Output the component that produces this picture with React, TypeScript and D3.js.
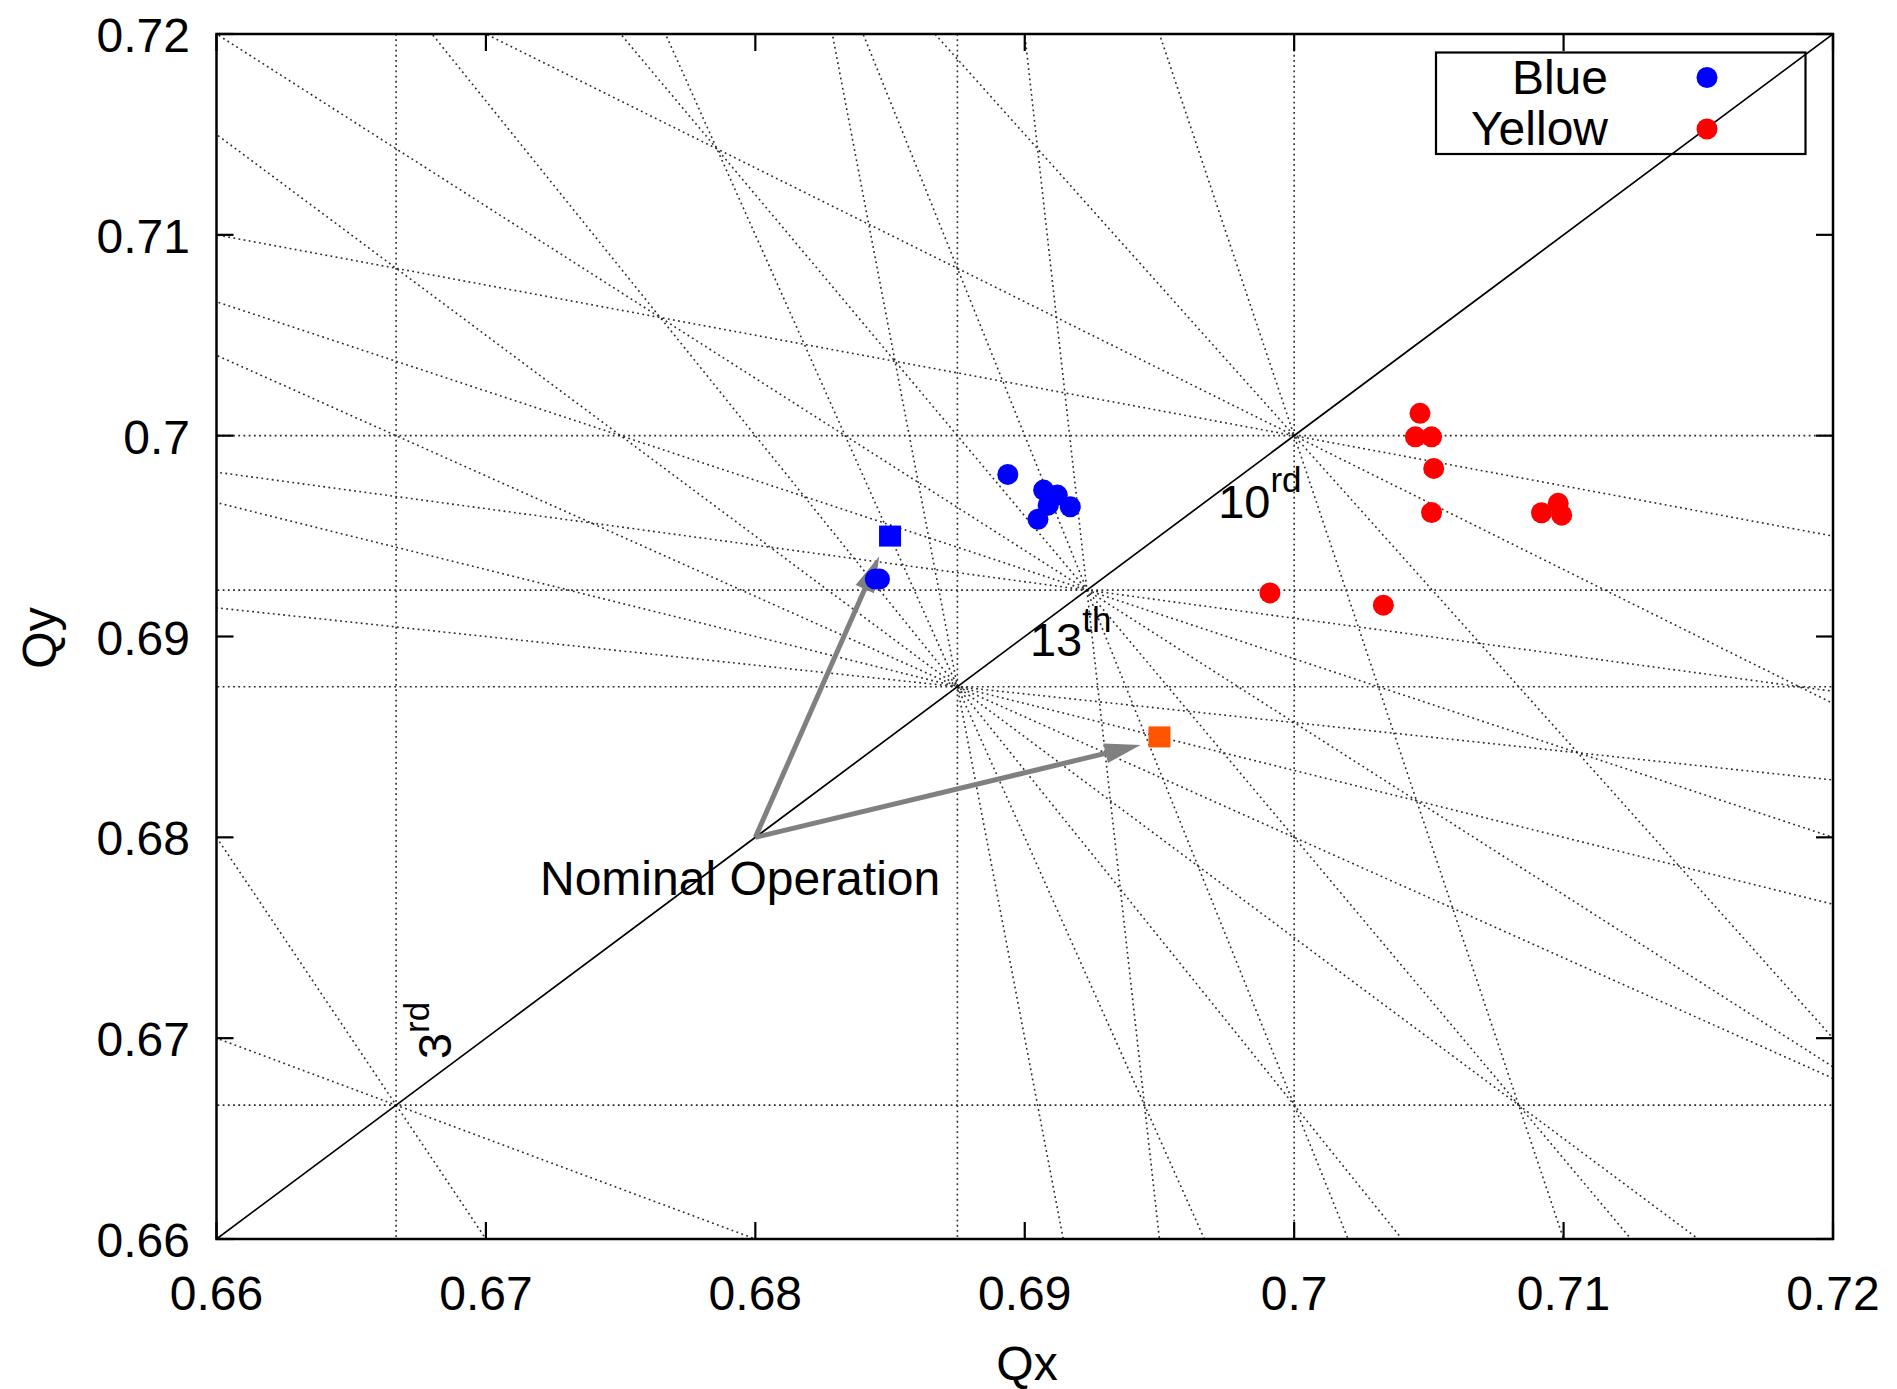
import React from 'react';
import * as d3 from 'd3';

const W = 1897;
const H = 1389;
const FONT = 'Liberation Sans, Arial, Helvetica, sans-serif';

const TICKS = [0.66, 0.67, 0.68, 0.69, 0.7, 0.71, 0.72];
const TICK_LABELS = ['0.66', '0.67', '0.68', '0.69', '0.7', '0.71', '0.72'];

// resonance lines: m*Qx + (N-m)*Qy = p
const ORDERS = [3, 10, 13, 16];
const ORDER_P = [2, 7, 9, 11];
const ORDER_M = [
  [0, 1, 2, 3],
  [0, 2, 4, 6, 8, 10],
  [0, 2, 4, 6, 8, 10, 12],
  [0, 2, 4, 6, 8, 10, 12, 14, 16],
];

const blueQx = [0.68937, 0.6907, 0.69121, 0.69169, 0.69087, 0.69049, 0.68445, 0.68461];
const blueQy = [0.69807, 0.69729, 0.69704, 0.69646, 0.69654, 0.69584, 0.69286, 0.69286];

const yellowQx = [0.70467, 0.7045, 0.7051, 0.70518, 0.7051, 0.70918, 0.7098, 0.70993, 0.6991, 0.70331];
const yellowQy = [0.70111, 0.69994, 0.69994, 0.69837, 0.69617, 0.69616, 0.69663, 0.69604, 0.69217, 0.69156];

const squaresQx = [0.685, 0.695];
const squaresQy = [0.695, 0.685];
const squareColors = ['#0000ff', '#ff5500'];

const nominal = [0.68, 0.68];
const arrowTipQx = [0.6846, 0.6943];
const arrowTipQy = [0.694, 0.6846];

function App() {
  const x = d3.scaleLinear().domain([0.66, 0.72]).range([216.5, 1833]);
  const y = d3.scaleLinear().domain([0.66, 0.72]).range([1239, 34]);
  const [x0, x1] = x.range();
  const [y0, y1] = y.range();

  const lineGen = d3.line<[number, number]>().x(d => x(d[0])).y(d => y(d[1]));

  const resLines: [number, number][][] = [];
  ORDERS.forEach((N, i) => {
    const p = ORDER_P[i];
    ORDER_M[i].forEach(m => {
      const n = N - m;
      if (n === 0) {
        resLines.push([[p / m, 0.65], [p / m, 0.73]]);
      } else {
        resLines.push([[0.65, (p - m * 0.65) / n], [0.73, (p - m * 0.73) / n]]);
      }
    });
  });

  const arrows = arrowTipQx.map((tq, i) => {
    const sx = x(nominal[0]), sy = y(nominal[1]);
    const tx = x(tq), ty = y(arrowTipQy[i]);
    const len = Math.hypot(tx - sx, ty - sy);
    const ux = (tx - sx) / len, uy = (ty - sy) / len;
    const L = 36, hw = 10;
    const bx = tx - ux * L, by = ty - uy * L;
    const head = `M${tx},${ty}L${bx - uy * hw},${by + ux * hw}L${bx + uy * hw},${by - ux * hw}Z`;
    return { sx, sy, bx: tx - ux * (L - 4), by: ty - uy * (L - 4), head };
  });

  const sup = (base: string, s: string, raise: number) => (
    <>
      {base}
      <tspan fontSize={35} dy={-raise}>{s}</tspan>
    </>
  );

  const p10 = [x(0.7), y(0.7)];
  const p13 = [x(9 / 13), y(9 / 13)];
  const p3 = [x(2 / 3), y(2 / 3)];

  return (
    <svg width={W} height={H} style={{ position: 'absolute', left: 0, top: 0, background: '#fff' }}
      fontFamily={FONT}>
      <defs>
        <clipPath id="plotClip">
          <rect x={x0} y={y1} width={x1 - x0} height={y0 - y1} />
        </clipPath>
      </defs>

      <g clipPath="url(#plotClip)">
        {resLines.map((l, i) => (
          <path key={i} d={lineGen(l) || ''} fill="none" stroke="#2a2a2a" strokeWidth={1.6}
            strokeDasharray="1.8 3.4" />
        ))}
        <path d={lineGen([[0.66, 0.66], [0.72, 0.72]]) || ''} stroke="#000" strokeWidth={1.7} fill="none" />
      </g>

      {arrows.map((a, i) => (
        <g key={i}>
          <line x1={a.sx} y1={a.sy} x2={a.bx} y2={a.by} stroke="#808080" strokeWidth={5} />
          <path d={a.head} fill="#808080" />
        </g>
      ))}

      {blueQx.map((q, i) => (
        <circle key={'b' + i} cx={x(q)} cy={y(blueQy[i])} r={10.5} fill="#0000ff" />
      ))}
      {yellowQx.map((q, i) => (
        <circle key={'y' + i} cx={x(q)} cy={y(yellowQy[i])} r={10.5} fill="#ff0000" />
      ))}
      {squaresQx.map((q, i) => (
        <rect key={'s' + i} x={x(q) - 11} y={y(squaresQy[i]) - 10.5} width={22} height={21} fill={squareColors[i]} />
      ))}

      <text x={p10[0] - 76} y={p10[1] + 82} fontSize={47}>{sup('10', 'rd', 26)}</text>
      <text x={p13[0] - 57} y={p13[1] + 66} fontSize={47}>{sup('13', 'th', 24)}</text>
      <text transform={`translate(${p3[0] + 55},${p3[1] - 46}) rotate(-90)`} fontSize={47}>{sup('3', 'rd', 22)}</text>
      <text x={540} y={895} fontSize={48}>Nominal Operation</text>

      <rect x={x0} y={y1} width={x1 - x0} height={y0 - y1} fill="none" stroke="#000" strokeWidth={2.5} />
      {TICKS.map((t, i) => (
        <g key={'t' + i}>
          <line x1={x(t)} x2={x(t)} y1={y0} y2={y0 - 17} stroke="#000" strokeWidth={2.2} />
          <line x1={x(t)} x2={x(t)} y1={y1} y2={y1 + 17} stroke="#000" strokeWidth={2.2} />
          <line x1={x0} x2={x0 + 17} y1={y(t)} y2={y(t)} stroke="#000" strokeWidth={2.2} />
          <line x1={x1} x2={x1 - 17} y1={y(t)} y2={y(t)} stroke="#000" strokeWidth={2.2} />
          <text x={x(t)} y={1310} fontSize={48} textAnchor="middle">{TICK_LABELS[i]}</text>
          <text x={190} y={y(t) + 18} fontSize={48} textAnchor="end">{TICK_LABELS[i]}</text>
        </g>
      ))}

      <text x={1027} y={1380} fontSize={48} textAnchor="middle">Qx</text>
      <text transform="translate(56,638) rotate(-90)" fontSize={48} textAnchor="middle">Qy</text>

      <rect x={1436} y={52.5} width={369.5} height={101.5} fill="none" stroke="#000" strokeWidth={2.2} />
      <text x={1608} y={94} fontSize={48} textAnchor="end">Blue</text>
      <text x={1608} y={145} fontSize={48} textAnchor="end">Yellow</text>
      <circle cx={1707} cy={77.5} r={10.5} fill="#0000ff" />
      <circle cx={1707} cy={129} r={10.5} fill="#ff0000" />
    </svg>
  );
}

export default App;
